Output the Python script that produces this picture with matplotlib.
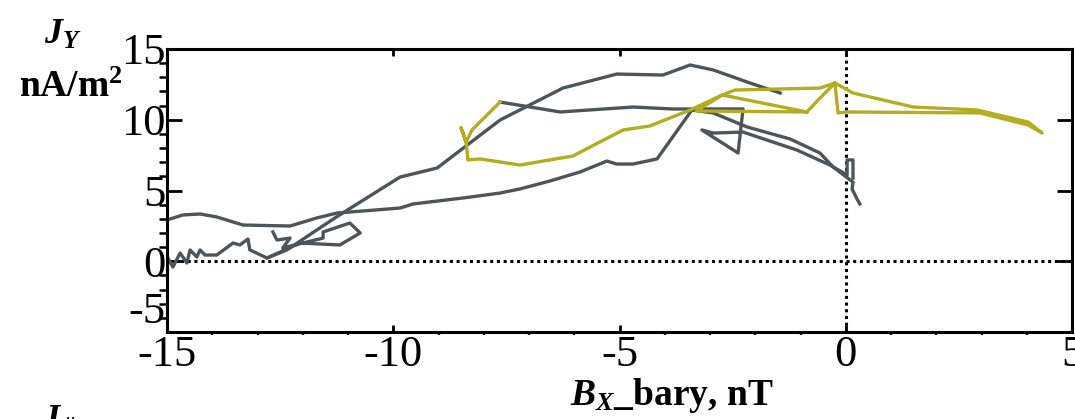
import matplotlib
matplotlib.use("Agg")
import matplotlib.pyplot as plt
from matplotlib.ticker import MultipleLocator

# --- data (Bx_bary in nT, Jy in nA/m^2) ---
# lower grey trajectory
gray1_x = [-15.0, -14.65, -14.27, -13.90, -13.32, -12.28, -11.69, -11.24, -9.85, -9.56, -8.46, -7.64, -7.20,
           -6.54, -5.87, -5.28, -5.06, -4.70, -4.17, -3.40, -2.93, -2.18, -1.23, -0.57, -0.28, 0.16, 0.14, 0.25, 0.31]
gray1_y = [2.92, 3.27, 3.34, 3.13, 2.56, 2.49, 3.06, 3.41, 3.76, 4.05, 4.47, 4.82, 5.11,
           5.67, 6.31, 7.08, 6.87, 6.87, 7.23, 10.69, 10.48, 9.49, 8.64, 7.65, 6.66, 5.60, 5.10, 4.40, 4.05]
# upper grey trajectory (starts noisy near the origin)
gray2_x = [-14.98, -14.87, -14.71, -14.56, -14.49, -14.34, -14.27, -14.16, -13.90, -13.54, -13.39, -13.21, -13.17,
           -12.79, -12.35, -11.29, -9.85, -9.03, -7.64, -6.25, -5.06, -4.04, -3.44, -2.93, -2.12, -1.45]
gray2_y = [0.23, -0.41, 0.58, -0.12, 0.80, 0.30, 0.80, 0.44, 0.44, 1.29, 1.15, 1.57, 0.80,
           0.23, 0.80, 3.06, 5.95, 6.59, 9.98, 12.24, 13.23, 13.16, 13.87, 13.52, 12.60, 11.89]
# small loops near -12
gray3_x = [-12.66, -12.57, -12.28, -12.44, -11.55, -11.55, -10.96, -10.73, -11.18, -12.06, -12.79]
gray3_y = [2.07, 1.50, 1.64, 0.94, 1.64, 2.07, 2.70, 2.00, 1.15, 1.29, 0.23]
# flat branch near 11 and the descending branch to x=0
gray4_x = [-7.64, -6.31, -4.70, -3.82, -2.27, -2.38, -3.18, -2.93, -2.27, -1.08, -0.35, 0.03, 0.03, 0.16, 0.16]
gray4_y = [11.25, 10.55, 10.90, 10.76, 10.76, 7.65, 9.28, 9.06, 9.13, 7.86, 6.80, 6.10, 7.16, 7.16, 5.88]
# yellow part of the trajectory
yel_x = [-7.64, -8.26, -8.39, -8.50, -8.39, -8.35, -8.08, -7.20, -6.03, -4.92, -4.33, -3.44, -2.73, -2.45,
         -0.57, -0.24, 0.16, 1.49, 2.90, 4.03, 4.34, 4.03, 2.97, 0.03, -0.17, -0.24, -0.61, -0.86,
         -3.30, -2.73, -0.86]
yel_y = [11.25, 9.28, 8.43, 9.42, 8.43, 7.16, 7.23, 6.80, 7.44, 9.28, 9.56, 10.69, 11.75, 12.10,
         12.24, 12.60, 11.89, 10.90, 10.69, 9.84, 9.06, 9.63, 10.48, 10.55, 10.48, 12.60, 11.40, 10.55,
         10.62, 11.75, 10.55]

xticks = [-15, -10, -5, 0, 5]
yticks = [-5, 0, 5, 10, 15]

gray = '#4b555b'
yellow = '#b3ad1f'

plt.rcParams['font.family'] = ['Liberation Serif', 'DejaVu Serif']
plt.rcParams['axes.unicode_minus'] = False
plt.rcParams['mathtext.fontset'] = 'custom'
plt.rcParams['mathtext.it'] = 'Liberation Serif:italic:bold'
plt.rcParams['mathtext.rm'] = 'Liberation Serif:bold'
plt.rcParams['mathtext.bf'] = 'Liberation Serif:bold'

fig = plt.figure(figsize=(10.75, 4.19), dpi=100)
ax = fig.add_axes([167/1075, 1 - 332/419, (1072 - 167)/1075, (332 - 49)/419])

# reference lines
ax.axhline(0, color='black', lw=2.2, ls=(0, (1, 1.2)), zorder=1)
ax.axvline(0, color='black', lw=2.2, ls=(0, (1, 1.2)), zorder=1)

for xs, ys, c in [(gray1_x, gray1_y, gray), (gray2_x, gray2_y, gray), (gray3_x, gray3_y, gray),
                  (gray4_x, gray4_y, gray), (yel_x, yel_y, yellow)]:
    ax.plot(xs, ys, color=c, lw=2.4, zorder=2)

ax.set_xlim(-15, 5)
ax.set_ylim(-5, 15)
ax.set_xticks(xticks)
ax.set_xticklabels([str(v) for v in xticks])
ax.set_yticks(yticks)
ax.set_yticklabels([str(v) for v in yticks])
ax.xaxis.set_minor_locator(MultipleLocator(1))
ax.yaxis.set_minor_locator(MultipleLocator(1))

for s in ax.spines.values():
    s.set_linewidth(2.2)
ax.tick_params(direction='in', top=True, right=True, width=2, labelsize=32)
ax.tick_params(axis='x', which='major', length=5, pad=2)
ax.tick_params(axis='x', which='minor', length=2.5, width=1.6)
ax.tick_params(axis='y', which='major', length=11, pad=1)
ax.tick_params(axis='y', which='minor', length=6, width=1.8)

# the -5 label sits above the bottom spine
lab = ax.get_yticklabels()[0]
lab.set_verticalalignment('bottom')

# axis titles
fig.text(672/1075, 1 - 405/419, r'$B_X$_bary, nT', fontsize=27, fontweight='bold',
         ha='center', va='baseline')
fig.text(63/1075, 1 - 44/419, r'$J_Y$', fontsize=26, ha='center', va='baseline')
fig.text(71/1075, 1 - 97/419, r'nA/m$^2$', fontsize=27, fontweight='bold', ha='center', va='baseline')
fig.text(58/1075, 1 - 430/419, r'$J_{\parallel}$', fontsize=26, ha='center', va='baseline')

fig.savefig('out.png', dpi=100)
